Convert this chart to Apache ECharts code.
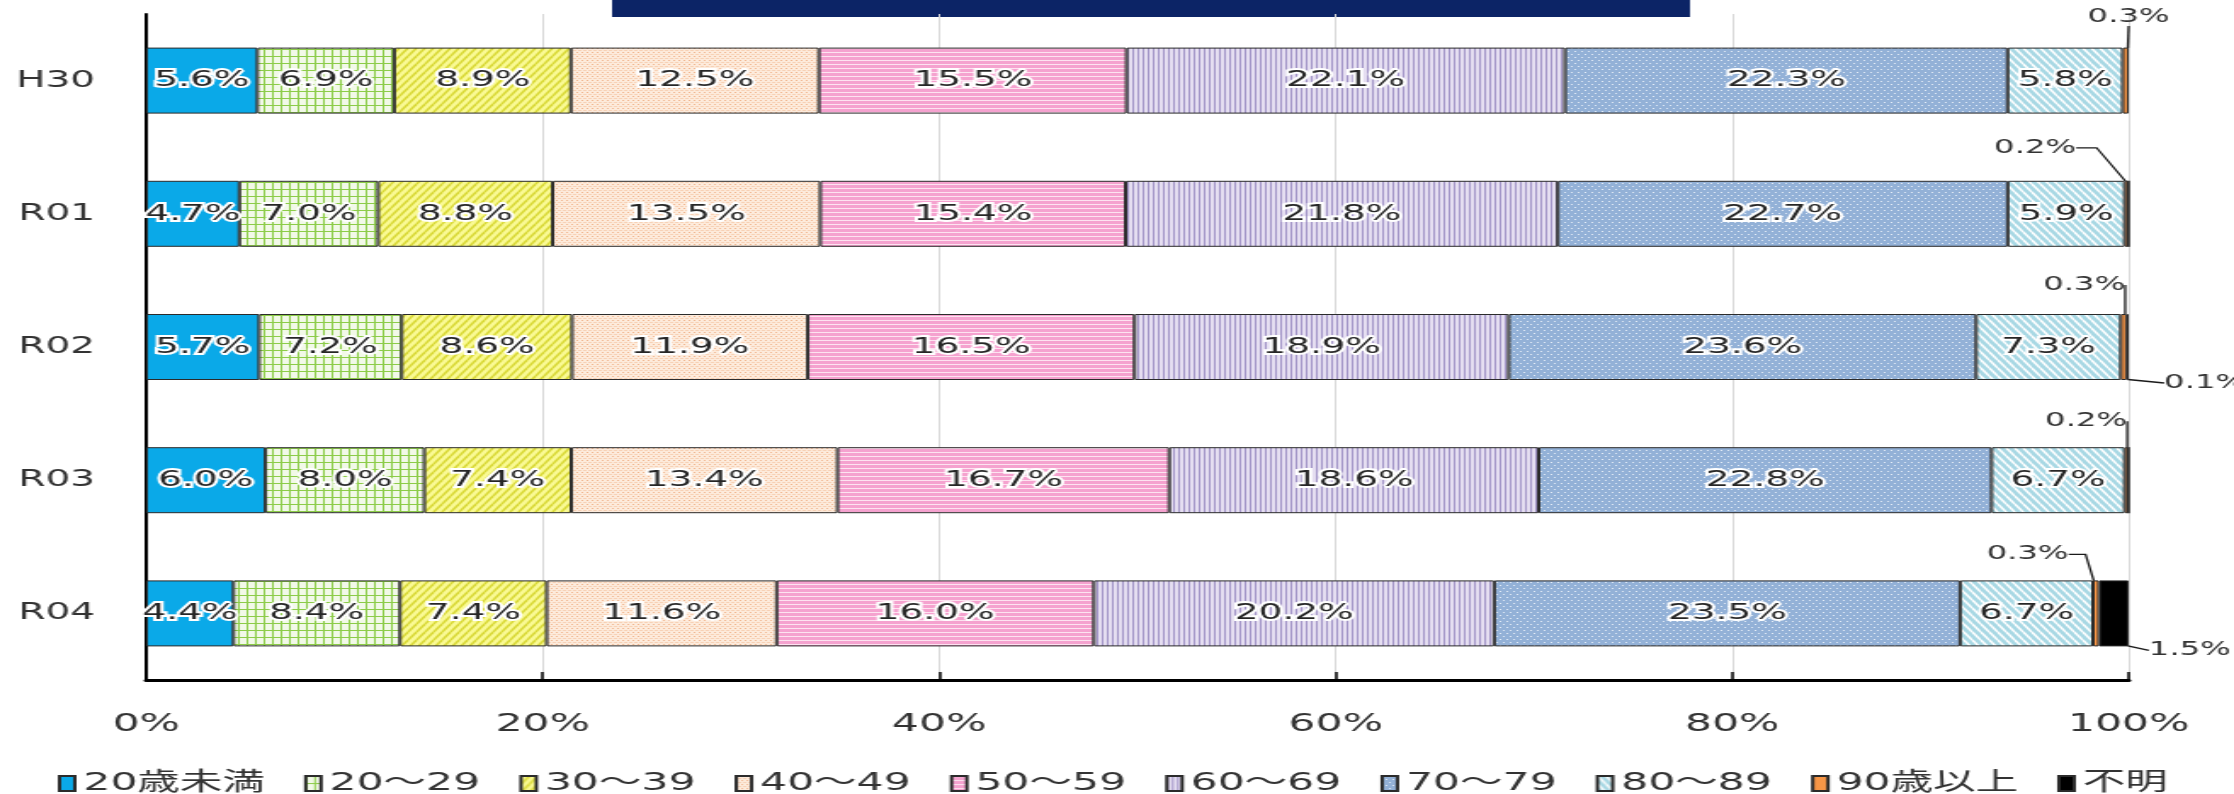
<!DOCTYPE html>
<html>
<head>
<meta charset="utf-8">
<title>年齢別構成比</title>
<script src="https://cdn.jsdelivr.net/npm/echarts@6/dist/echarts.min.js"></script>
<style>
  html, body { margin: 0; padding: 0; background: #fff; overflow: hidden; }
  /* the reference is stretched sideways, so the chart is drawn narrow and widened */
  #chart { width: 1314px; height: 794px; transform: scaleX(1.7002); transform-origin: 0 0; }
</style>
</head>
<body>
<div id="chart"></div>
<script>
const years = ['H30', 'R01', 'R02', 'R03', 'R04'];
const groupNames = ['20歳未満', '20～29', '30～39', '40～49', '50～59', '60～69', '70～79', '80～89', '90歳以上', '不明'];

const under20 = [5.6, 4.7, 5.7, 6.0, 4.4];
const age20s = [6.9, 7.0, 7.2, 8.0, 8.4];
const age30s = [8.9, 8.8, 8.6, 7.4, 7.4];
const age40s = [12.5, 13.5, 11.9, 13.4, 11.6];
const age50s = [15.5, 15.4, 16.5, 16.7, 16.0];
const age60s = [22.1, 21.8, 18.9, 18.6, 20.2];
const age70s = [22.3, 22.7, 23.6, 22.8, 23.5];
const age80s = [5.8, 5.9, 7.3, 6.7, 6.7];
const over90 = [0.3, 0.2, 0.3, 0.2, 0.3];
const unknown = [0, 0, 0.1, 0, 1.5];

const groups = [under20, age20s, age30s, age40s, age50s, age60s, age70s, age80s, over90, unknown];

const FONT = "'DejaVu Sans', 'Noto Sans CJK JP', sans-serif";

// small repeating tiles for the Excel-like fill patterns
function tile(w, h, bg, draw) {
  const c = document.createElement('canvas');
  c.width = w;
  c.height = h;
  const ctx = c.getContext('2d');
  ctx.fillStyle = bg;
  ctx.fillRect(0, 0, w, h);
  if (draw) draw(ctx, w, h);
  return { image: c, repeat: 'repeat' };
}
function lines(ctx, color, width, segs) {
  ctx.strokeStyle = color;
  ctx.lineWidth = width;
  segs.forEach(s => {
    ctx.beginPath();
    ctx.moveTo(s[0], s[1]);
    ctx.lineTo(s[2], s[3]);
    ctx.stroke();
  });
}

const fills = [
  '#0aa9e8',
  tile(5, 7, '#f2f9e8', (ctx, w, h) => {
    ctx.fillStyle = '#8ccc48';
    ctx.fillRect(0, 0, w, 1);
    ctx.fillRect(0, 0, 1, h);
  }),
  tile(5, 8, '#fafa94', (ctx, w, h) => {
    lines(ctx, '#d8d836', 1.6, [[0, h, w, 0], [-w, h, 0, 0], [w, h, 2 * w, 0]]);
  }),
  tile(3, 4, '#fdebdc', (ctx) => {
    ctx.fillStyle = '#f1b68e';
    ctx.fillRect(0, 0, 1, 1);
    ctx.fillRect(1.5, 2, 1, 1);
  }),
  tile(4, 4, '#f5a2cf', (ctx, w) => {
    ctx.fillStyle = '#fde3f0';
    ctx.fillRect(0, 0, w, 1);
  }),
  tile(3, 4, '#e5def1', (ctx, w, h) => {
    ctx.fillStyle = '#a396c8';
    ctx.fillRect(0, 0, 1, h);
  }),
  tile(4, 6, '#93b1d7', (ctx) => {
    ctx.fillStyle = '#e2ebf6';
    ctx.fillRect(0, 0, 1, 1);
    ctx.fillRect(2, 3, 1, 1);
  }),
  tile(5, 8, '#a8d8e4', (ctx, w, h) => {
    lines(ctx, '#ffffff', 1.6, [[0, 0, w, h], [-w, 0, 0, h], [w, 0, 2 * w, h]]);
  }),
  '#f79646',
  '#000000'
];

// where the labels of the thin slices go, relative to the end of their slice
// (from: 'top' = bar top edge, 'mid' = bar middle); stub = elbow length of the leader
const outsideSpots = {
  8: {
    0: { dx: 0, dy: -31, from: 'top', stub: 0 },
    1: { dx: -55, dy: -33, from: 'top', stub: 12 },
    2: { dx: -25, dy: -29, from: 'top', stub: 0 },
    3: { dx: -25, dy: -26, from: 'top', stub: 0 },
    4: { dx: -42, dy: -26, from: 'top', stub: 10 }
  },
  9: {
    2: { dx: 45, dy: 36, from: 'mid', stub: 0 },
    4: { dx: 36, dy: 37, from: 'mid', stub: 0 }
  }
};
function spotOf(si, di) {
  return outsideSpots[si] ? outsideSpots[si][di] : null;
}

// 100% stacked: each year is scaled by its own total
const totals = years.map((y, i) => groups.reduce((s, g) => s + g[i], 0));

const series = groups.map((values, si) => ({
  name: groupNames[si],
  type: 'bar',
  stack: 'total',
  barWidth: 66,
  itemStyle: { color: fills[si], borderColor: '#2b2b2b', borderWidth: 1 },
  label: {
    show: true,
    position: 'inside',
    fontFamily: FONT,
    fontSize: 22,
    color: '#262626',
    textBorderColor: '#ffffff',
    textBorderWidth: 4,
    formatter: p => values[p.dataIndex] > 0 ? values[p.dataIndex].toFixed(1) + '%' : ''
  },
  labelLayout: params => {
    const spot = spotOf(params.seriesIndex, params.dataIndex);
    if (!spot) return {};
    const r = params.rect;
    const baseY = spot.from === 'mid' ? r.y + r.height / 2 : r.y;
    return {
      x: r.x + r.width + spot.dx,
      y: baseY + spot.dy,
      align: 'center',
      verticalAlign: 'middle'
    };
  },
  data: values.map((v, i) => {
    const item = { value: v / totals[i] * 100 };
    const spot = spotOf(si, i);
    if (spot) {
      item.label = { position: 'top', fontSize: 19, textBorderWidth: 0, color: '#333333' };
      item.labelLine = {
        show: true,
        length2: spot.stub,
        minTurnAngle: 0,
        lineStyle: { color: '#1a1a1a', width: 1.3 }
      };
    } else if (v < 1) {
      item.label = { show: false };
    }
    return item;
  })
}));

const legendWidths = { '20歳未満': 127, '90歳以上': 127 };

const chart = echarts.init(document.getElementById('chart'));
chart.setOption({
  animation: false,
  backgroundColor: '#ffffff',
  graphic: [{
    type: 'rect',
    left: 360,
    top: 0,
    shape: { width: 634, height: 17 },
    style: { fill: '#0c2466' }
  }],
  grid: { left: 86, right: 62, top: 14, bottom: 114 },
  legend: {
    left: 29,
    top: 766,
    icon: 'rect',
    itemWidth: 9,
    itemHeight: 15,
    itemGap: 23,
    textStyle: { fontFamily: FONT, fontSize: 25, color: '#333333', width: 97 },
    data: groupNames.map(n => ({
      name: n,
      textStyle: legendWidths[n] ? { width: legendWidths[n] } : {}
    }))
  },
  xAxis: {
    type: 'value',
    min: 0,
    max: 100,
    interval: 20,
    axisLine: { show: true, lineStyle: { color: '#000', width: 3 } },
    axisTick: { show: true, inside: true, length: 8, lineStyle: { color: '#000', width: 1.5 } },
    splitLine: { show: true, lineStyle: { color: '#d9d9d9', width: 1 } },
    axisLabel: {
      margin: 32,
      fontFamily: FONT,
      fontSize: 25,
      color: '#333333',
      formatter: '{value}%'
    }
  },
  yAxis: {
    type: 'category',
    inverse: true,
    data: years,
    axisLine: { show: true, lineStyle: { color: '#000', width: 2 } },
    axisTick: { show: false },
    axisLabel: { margin: 30, fontFamily: FONT, fontSize: 23, color: '#333333' }
  },
  series: series
});
</script>
</body>
</html>
